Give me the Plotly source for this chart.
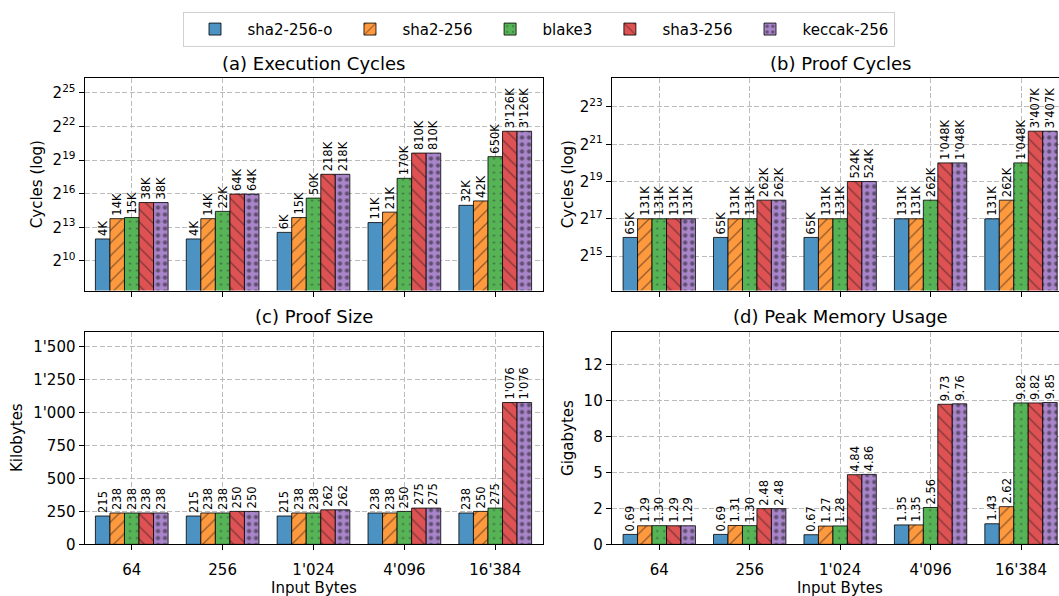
import math
import plotly.graph_objects as go

W, H = 1059, 596

# Input sizes (x categories) and hash schemes (series)
sizes = ["64", "256", "1'024", "4'096", "16'384"]
schemes = ["sha2-256-o", "sha2-256", "blake3", "sha3-256", "keccak-256"]

# (a) Execution cycles, in thousands of cycles
exec_sha2_o = [4, 4, 6, 11, 32]
exec_sha2 = [14, 14, 15, 21, 42]
exec_blake3 = [15, 22, 50, 170, 650]
exec_sha3 = [38, 64, 218, 810, 3126]
exec_keccak = [38, 64, 218, 810, 3126]

# (b) Proof cycles
proof_sha2_o = [65536, 65536, 65536, 131072, 131072]
proof_sha2 = [131072, 131072, 131072, 131072, 262144]
proof_blake3 = [131072, 131072, 131072, 262144, 1048576]
proof_sha3 = [131072, 262144, 524288, 1048576, 3407872]
proof_keccak = [131072, 262144, 524288, 1048576, 3407872]

# (c) Proof size, kilobytes
size_sha2_o = [215, 215, 215, 238, 238]
size_sha2 = [238, 238, 238, 238, 250]
size_blake3 = [238, 238, 238, 250, 275]
size_sha3 = [238, 250, 262, 275, 1076]
size_keccak = [238, 250, 262, 275, 1076]

# (d) Peak memory usage, gigabytes
mem_sha2_o = [0.69, 0.69, 0.67, 1.35, 1.43]
mem_sha2 = [1.29, 1.31, 1.27, 1.35, 2.62]
mem_blake3 = [1.30, 1.30, 1.28, 2.56, 9.82]
mem_sha3 = [1.29, 2.48, 4.84, 9.73, 9.82]
mem_keccak = [1.29, 2.48, 4.86, 9.76, 9.85]

# Axis tick labels
exec_tick_pows = [10, 13, 16, 19, 22, 25]
proof_tick_pows = [15, 17, 19, 21, 23]
size_ticks = [0, 250, 500, 750, 1000, 1250, 1500]
size_ticktext = ["0", "250", "500", "750", "1'000", "1'250", "1'500"]
mem_ticks = [0, 2.5, 5, 7.5, 10, 12.5]
mem_ticktext = ["0", "2", "5", "8", "10", "12"]

FONT = "DejaVu Sans"
colors = ["#4c92c3", "#ff993e", "#56b356", "#de5253", "#a985ca"]
patterns = [
    dict(shape=""),
    dict(shape="/", size=9, solidity=0.14),
    dict(shape=".", size=7, solidity=0.07),
    dict(shape="\\", size=9, solidity=0.14),
    dict(shape=".", size=7, solidity=0.30),
]


def apos(n):
    return f"{n:,}".replace(",", "'")


panels = [
    ([exec_sha2_o, exec_sha2, exec_blake3, exec_sha3, exec_keccak],
     lambda v: v * 1000, lambda v: apos(v) + "K", ""),
    ([proof_sha2_o, proof_sha2, proof_blake3, proof_sha3, proof_keccak],
     lambda v: v, lambda v: apos(v // 1000) + "K", "2"),
    ([size_sha2_o, size_sha2, size_blake3, size_sha3, size_keccak],
     lambda v: v, lambda v: apos(v), "3"),
    ([mem_sha2_o, mem_sha2, mem_blake3, mem_sha3, mem_keccak],
     lambda v: v, lambda v: f"{v:.2f}", "4"),
]

fig = go.Figure()
for p, (series, yf, lf, sfx) in enumerate(panels):
    for i, vals in enumerate(series):
        pat = dict(patterns[i])
        if pat["shape"]:
            pat.update(fillmode="overlay", fgcolor="#1a1a1a", bgcolor=colors[i])
        fig.add_trace(go.Bar(
            x=sizes,
            y=[yf(v) for v in vals],
            text=[lf(v) for v in vals],
            textposition="outside",
            textangle=-90,
            constraintext="none",
            cliponaxis=False,
            textfont=dict(family=FONT, size=11.5, color="black"),
            name=schemes[i],
            legendgroup=schemes[i],
            showlegend=(p == 0),
            marker=dict(color=colors[i], pattern=pat,
                        line=dict(color="rgba(0,0,0,0.8)", width=1)),
            xaxis="x" + sfx,
            yaxis="y" + sfx,
            hoverinfo="skip",
        ))


def fx(px):
    return px / W


def fy(py):
    return 1 - py / H


L2 = math.log10(2)
left_dom = [fx(84.5), fx(542.5)]
right_dom = [fx(611.7), 1.0]
top_dom = [fy(295), fy(79.3)]
bot_dom = [fy(552.7), fy(336.7)]

axis_common = dict(
    showline=True, linecolor="black", linewidth=1,
    ticks="outside", ticklen=5, tickcolor="black", tickwidth=1,
    showgrid=True, gridcolor="#bcbcbc", gridwidth=1, griddash="5px,2.5px",
    zeroline=False,
    tickfont=dict(family=FONT, size=15, color="black"),
)

xa = dict(axis_common, type="category", categoryorder="array",
          categoryarray=sizes, ticklabelstandoff=7)

fig.update_layout(
    width=W, height=H,
    margin=dict(l=0, r=0, t=0, b=0),
    plot_bgcolor="white", paper_bgcolor="white",
    barmode="group", bargap=0.2, bargroupgap=0,
    font=dict(family=FONT, size=15, color="black"),
    showlegend=True,
    legend=dict(
        orientation="h", x=fx(538.5), xanchor="center", y=fy(12), yanchor="top",
        bordercolor="#d0d0d0", borderwidth=1, bgcolor="white",
        font=dict(family=FONT, size=15), itemwidth=55,
    ),
    xaxis=dict(xa, domain=left_dom, anchor="y", range=[-0.52, 4.52],
               mirror=True, showticklabels=False),
    yaxis=dict(axis_common, domain=top_dom, anchor="x", type="log",
               range=[7.36 * L2, 26.32 * L2], mirror=True,
               tickvals=[2 ** k for k in exec_tick_pows],
               ticktext=[f"2<sup>{k}</sup>" for k in exec_tick_pows]),
    xaxis2=dict(xa, domain=right_dom, anchor="y2", range=[-0.526, 4.42],
                mirror=True, showticklabels=False),
    yaxis2=dict(axis_common, domain=top_dom, anchor="x2", type="log",
                range=[13.15 * L2, 24.55 * L2], mirror=False,
                tickvals=[2 ** k for k in proof_tick_pows],
                ticktext=[f"2<sup>{k}</sup>" for k in proof_tick_pows]),
    xaxis3=dict(xa, domain=left_dom, anchor="y3", range=[-0.52, 4.52],
                mirror=True),
    yaxis3=dict(axis_common, domain=bot_dom, anchor="x3",
                range=[0, 1614], mirror=True,
                tickvals=size_ticks, ticktext=size_ticktext),
    xaxis4=dict(xa, domain=right_dom, anchor="y4", range=[-0.526, 4.42],
                mirror=True),
    yaxis4=dict(axis_common, domain=bot_dom, anchor="x4",
                range=[0, 14.775], mirror=False,
                tickvals=mem_ticks, ticktext=mem_ticktext),
)

annotations = []


def text(x, y, s, size=15, angle=0, xanchor="center", yanchor="middle"):
    annotations.append(dict(
        x=x, y=y, xref="paper", yref="paper", text=s, showarrow=False,
        textangle=angle, xanchor=xanchor, yanchor=yanchor,
        font=dict(family=FONT, size=size, color="black"),
    ))


# subplot titles
text(fx(313.5), fy(64.5), "(a) Execution Cycles", size=18)
text(fx(840), fy(64.5), "(b) Proof Cycles", size=18)
text(fx(313.5), fy(321), "(c) Proof Size", size=18)
text(fx(840), fy(321), "(d) Peak Memory Usage", size=18)

# axis titles
text(fx(37), fy(187), "Cycles (log)", angle=-90)
text(fx(568), fy(187), "Cycles (log)", angle=-90)
text(fx(17), fy(444.7), "Kilobytes", angle=-90)
text(fx(568), fy(444.7), "Gigabytes", angle=-90)
text(fx(313.5), fy(586), "Input Bytes", yanchor="top")
text(fx(840), fy(586), "Input Bytes", yanchor="top")

fig.update_layout(annotations=annotations)

fig.write_html("out.html")
